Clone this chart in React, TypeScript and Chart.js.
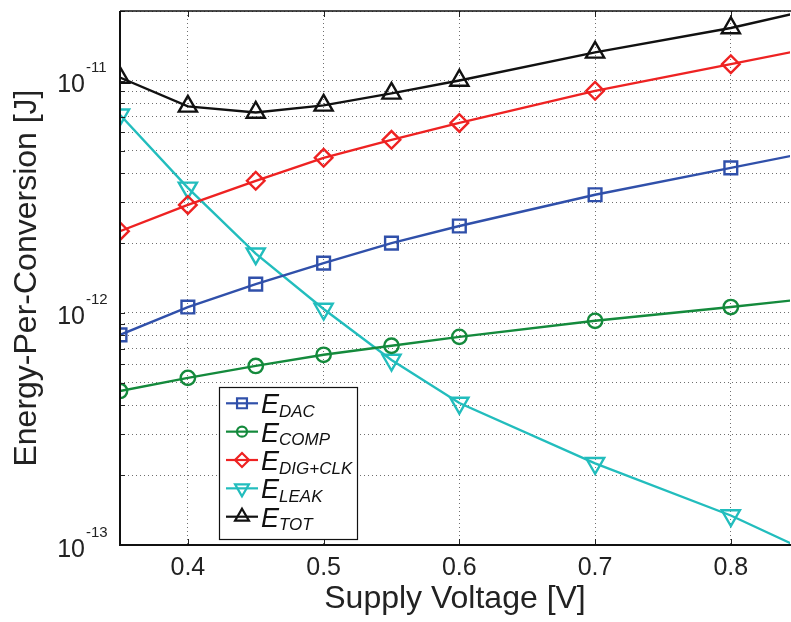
import React, { useEffect, useRef } from 'react';
import { Chart, registerables } from 'chart.js';

Chart.register(...registerables);

// ---------- data ----------
const voltages = [0.35, 0.4, 0.45, 0.5, 0.55, 0.6, 0.7, 0.8, 0.85];
const eDac = [8.04e-13, 1.06e-12, 1.33e-12, 1.64e-12, 2.0e-12, 2.37e-12, 3.23e-12, 4.22e-12, 4.82e-12];
const eComp = [4.61e-13, 5.25e-13, 5.91e-13, 6.6e-13, 7.22e-13, 7.89e-13, 9.25e-13, 1.06e-12, 1.14e-12];
const eDigClk = [2.25e-12, 2.92e-12, 3.71e-12, 4.66e-12, 5.57e-12, 6.59e-12, 9.06e-12, 1.18e-11, 1.35e-11];
const eLeak = [7.14e-12, 3.46e-12, 1.8e-12, 1.04e-12, 6.27e-13, 4.09e-13, 2.25e-13, 1.34e-13, 9.8e-14];
const eTot = [1.034e-11, 7.76e-12, 7.31e-12, 7.84e-12, 8.83e-12, 1.004e-11, 1.326e-11, 1.69e-11, 1.97e-11];

const seriesSubscripts = ['DAC', 'COMP', 'DIG+CLK', 'LEAK', 'TOT'];
const seriesMain = 'E';

const xTicks = [0.4, 0.5, 0.6, 0.7, 0.8];
const yDecadeExponents = [-13, -12, -11];
const yMantissas = [1, 2, 3, 4, 5, 6, 7, 8, 9];

const xMin = 0.35;
const xMax = 0.8436;
const yMin = 1e-13;
const yMax = 2e-11;

const xTitle = 'Supply Voltage [V]';
const yTitle = 'Energy-Per-Conversion [J]';

const FONT = "'Liberation Sans', Arial, Helvetica, sans-serif";

type Style = { color: string; point: string; rot: number; r: number; lr: number };
const styles: Style[] = [
  { color: '#3050AA', point: 'rect', rot: 0, r: 9, lr: 7 },
  { color: '#148A3C', point: 'circle', rot: 0, r: 7.2, lr: 5 },
  { color: '#EE2222', point: 'rectRot', rot: 0, r: 8.8, lr: 7 },
  { color: '#22BDBD', point: 'triangle', rot: 180, r: 10.5, lr: 8 },
  { color: '#111111', point: 'triangle', rot: 0, r: 10.5, lr: 8 },
];
const seriesValues = [eDac, eComp, eDigClk, eLeak, eTot];

function drawMarker(ctx: CanvasRenderingContext2D, style: string, rot: number, x: number, y: number, r: number) {
  ctx.beginPath();
  if (style === 'rect') {
    const s = Math.SQRT1_2 * r;
    ctx.rect(x - s, y - s, 2 * s, 2 * s);
  } else if (style === 'circle') {
    ctx.arc(x, y, r, 0, Math.PI * 2);
  } else if (style === 'rectRot') {
    ctx.moveTo(x, y - r);
    ctx.lineTo(x + r, y);
    ctx.lineTo(x, y + r);
    ctx.lineTo(x - r, y);
    ctx.closePath();
  } else if (style === 'triangle') {
    let rad = (rot * Math.PI) / 180;
    ctx.moveTo(x + Math.sin(rad) * r, y - Math.cos(rad) * r);
    rad += (2 * Math.PI) / 3;
    ctx.lineTo(x + Math.sin(rad) * r, y - Math.cos(rad) * r);
    rad += (2 * Math.PI) / 3;
    ctx.lineTo(x + Math.sin(rad) * r, y - Math.cos(rad) * r);
    ctx.closePath();
  }
  ctx.stroke();
}

const framePlugin = {
  id: 'matlabFrame',
  afterDraw(chart: any) {
    const { ctx, chartArea } = chart;
    const { left, right, top, bottom } = chartArea;
    const xs = chart.scales.x;
    const ys = chart.scales.y;
    ctx.save();

    // inner tick marks
    ctx.strokeStyle = '#222';
    ctx.lineWidth = 1;
    ctx.beginPath();
    for (const t of ys.ticks) {
      const py = Math.round(ys.getPixelForValue(t.value)) + 0.5;
      ctx.moveTo(left, py);
      ctx.lineTo(left + 5, py);
    }
    for (const v of xTicks) {
      const px = Math.round(xs.getPixelForValue(v)) + 0.5;
      ctx.moveTo(px, bottom);
      ctx.lineTo(px, bottom - 6);
      ctx.moveTo(px, top);
      ctx.lineTo(px, top + 6);
    }
    ctx.stroke();

    // axes lines
    ctx.strokeStyle = '#111';
    ctx.lineWidth = 2;
    ctx.beginPath();
    ctx.moveTo(left, top);
    ctx.lineTo(left, bottom);
    ctx.lineTo(right + 1, bottom);
    ctx.stroke();
    ctx.lineWidth = 1.5;
    ctx.beginPath();
    ctx.moveTo(left, top);
    ctx.lineTo(right + 1, top);
    ctx.stroke();

    // y decade labels with superscript exponent
    ctx.fillStyle = '#222';
    ctx.textBaseline = 'alphabetic';
    for (const e of yDecadeExponents) {
      const py = ys.getPixelForValue(Math.pow(10, e));
      ctx.font = `25px ${FONT}`;
      ctx.textAlign = 'right';
      ctx.fillText('10', 85, py + 11.5);
      ctx.font = `15px ${FONT}`;
      ctx.textAlign = 'left';
      ctx.fillText(String(e), 86, py - 8.5);
    }

    // legend
    const bx = 219.5, by = 387.5, bw = 138, bh = 152;
    ctx.fillStyle = '#ffffff';
    ctx.fillRect(bx, by, bw, bh);
    ctx.strokeStyle = '#111';
    ctx.lineWidth = 1.2;
    ctx.strokeRect(bx, by, bw, bh);
    seriesSubscripts.forEach((sub, i) => {
      const st = styles[i];
      const cy = 403.3 + i * 28.35;
      ctx.strokeStyle = st.color;
      ctx.lineWidth = 2.2;
      ctx.beginPath();
      ctx.moveTo(226, cy);
      ctx.lineTo(258, cy);
      ctx.stroke();
      drawMarker(ctx, st.point, st.rot, 242, cy, st.lr);
      ctx.fillStyle = '#111';
      ctx.textAlign = 'left';
      ctx.font = `italic 27px ${FONT}`;
      ctx.fillText(seriesMain, 261, cy + 10);
      const w = ctx.measureText(seriesMain).width;
      ctx.font = `italic 17px ${FONT}`;
      ctx.fillText(sub, 261 + w, cy + 13.5);
    });

    ctx.restore();
  },
};

export default function App() {
  const ref = useRef<HTMLCanvasElement | null>(null);

  useEffect(() => {
    document.body.style.margin = '0';
    const canvas = ref.current;
    if (!canvas) return;

    const yTicks: number[] = [];
    for (const e of yDecadeExponents) {
      for (const m of yMantissas) {
        const v = m * Math.pow(10, e);
        if (v <= yMax * 1.0001) yTicks.push(v);
      }
    }
    yTicks.push(yMax);

    const datasets = seriesValues.map((vals, i) => {
      const st = styles[i];
      return {
        label: seriesMain + seriesSubscripts[i],
        data: voltages.map((v, j) => ({ x: v, y: vals[j] })),
        borderColor: st.color,
        backgroundColor: 'rgba(0,0,0,0)',
        borderWidth: 2.4,
        pointStyle: st.point,
        pointRotation: st.rot,
        pointRadius: voltages.map((v) => (v > xMax ? 0 : st.r)),
        pointBorderWidth: 2.4,
        pointBorderColor: st.color,
        pointBackgroundColor: 'rgba(0,0,0,0)',
        tension: 0,
        fill: false,
      };
    });

    const chart = new Chart(canvas, {
      type: 'line',
      data: { datasets } as any,
      options: {
        responsive: false,
        animation: false,
        events: [],
        layout: { autoPadding: false, padding: { top: 11, right: 1, left: 0, bottom: 0 } },
        plugins: {
          legend: { display: false },
          tooltip: { enabled: false },
          title: { display: false },
        },
        scales: {
          x: {
            type: 'linear',
            min: xMin,
            max: xMax,
            afterBuildTicks: (s: any) => {
              s.ticks = xTicks.map((v) => ({ value: v }));
            },
            afterFit: (s: any) => {
              s.height = 77;
              s.paddingLeft = 0;
              s.paddingRight = 0;
            },
            grid: { color: '#6f6f6f', lineWidth: 1, drawTicks: false },
            border: { display: false, dash: [1, 3] },
            ticks: {
              padding: 8,
              color: '#222',
              font: { family: FONT, size: 25 },
              maxRotation: 0,
              autoSkip: false,
              callback: (v: any) => Number(v).toFixed(1),
            },
            title: {
              display: true,
              text: xTitle,
              color: '#222',
              font: { family: FONT, size: 32 },
              padding: { top: 0, bottom: 4 },
            },
          },
          y: {
            type: 'logarithmic',
            min: yMin,
            max: yMax,
            afterBuildTicks: (s: any) => {
              s.ticks = yTicks.map((v) => ({ value: v }));
            },
            afterFit: (s: any) => {
              s.width = 120;
              s.paddingTop = 0;
              s.paddingBottom = 0;
            },
            grid: { color: '#6f6f6f', lineWidth: 1, drawTicks: false },
            border: { display: false, dash: [1, 3] },
            ticks: { display: false },
            title: {
              display: true,
              text: yTitle,
              color: '#222',
              font: { family: FONT, size: 32 },
              padding: { top: 8, bottom: 0 },
            },
          },
        },
      } as any,
      plugins: [framePlugin],
    });

    return () => chart.destroy();
  }, []);

  return (
    <div style={{ width: 791, height: 622 }}>
      <canvas ref={ref} width={791} height={622} style={{ display: 'block' }} />
    </div>
  );
}
